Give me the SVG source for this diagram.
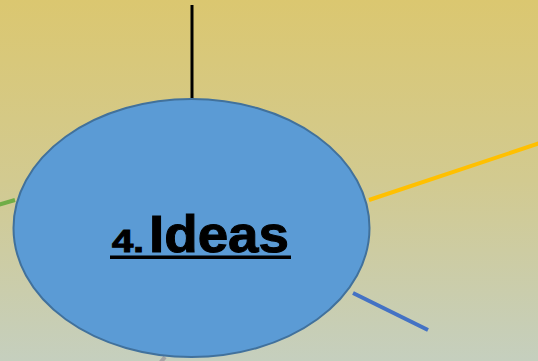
<svg xmlns="http://www.w3.org/2000/svg" width="538" height="361" viewBox="0 0 538 361">
<defs>
<linearGradient id="bg" x1="0" y1="0" x2="0" y2="1">
<stop offset="0" stop-color="#DBC770"/>
<stop offset="0.5" stop-color="#D2CA90"/>
<stop offset="1" stop-color="#C5CFBE"/>
</linearGradient>
<style>
.ln{fill:none;stroke-linecap:butt}
.t{font-family:"Liberation Sans",Arial,sans-serif;font-weight:bold;fill:#000;stroke:#000;stroke-width:1}
</style>
</defs>
<rect width="538" height="361" fill="url(#bg)"/>
<g id="connectors">
<line class="ln" x1="192" y1="5" x2="192" y2="101" stroke="#000" stroke-width="3"/>
<line class="ln" x1="369" y1="200" x2="540" y2="143" stroke="#FFC000" stroke-width="4"/>
<line class="ln" x1="-2" y1="205" x2="15" y2="200" stroke="#70AD47" stroke-width="4"/>
<line class="ln" x1="353" y1="293" x2="428" y2="330" stroke="#4472C4" stroke-width="4"/>
<line class="ln" x1="160" y1="363" x2="165" y2="357" stroke="#A5A5A5" stroke-width="4"/>
</g>
<g id="ideas">
<ellipse cx="191.5" cy="228" rx="178" ry="129" fill="#5B9BD5" stroke="#41719C" stroke-width="2"/>
<text class="t" x="112" y="251.5" font-size="31" textLength="32" lengthAdjust="spacingAndGlyphs">4.</text>
<text class="t" x="149" y="251.5" font-size="52" textLength="140" lengthAdjust="spacingAndGlyphs">Ideas</text>
<rect x="110" y="255.5" width="181" height="3.5" fill="#000"/>
</g>
</svg>
